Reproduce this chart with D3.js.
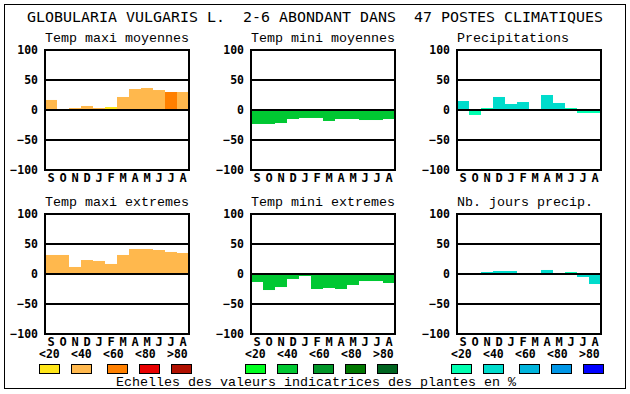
<!DOCTYPE html>
<html>
<head>
<meta charset="utf-8">
<script src="https://cdn.jsdelivr.net/npm/d3@7"></script>
<style>
  body { margin: 0; background: #fff; }
  text { font-family: "DejaVu Sans Mono", monospace; white-space: pre; }
  .thin { font-family: "Liberation Mono", "DejaVu Sans Mono", monospace; }
</style>
</head>
<body>
<svg id="chart" width="630" height="394"></svg>
<script>
// months, sept -> aug
var months = ["S", "O", "N", "D", "J", "F", "M", "A", "M", "J", "J", "A"];
var yTicks = [-100, -50, 0, 50, 100];
var scaleLabels = ["<20", "<40", "<60", "<80", ">80"];

var titles = ["Temp maxi moyennes", "Temp mini moyennes", "Precipitations",
              "Temp maxi extremes", "Temp mini extremes", "Nb. jours precip."];

// values (% indicative value)
var maxiMoy   = [16.7, 1.7, 3.3, 6.7, 3.3, 5, 21.7, 35, 36.7, 33.3, 30, 30];
var miniMoy   = [-23.3, -23.3, -21.7, -15, -13.3, -13.3, -18.3, -15, -15, -16.7, -16.7, -15];
var precip    = [15, -8.3, 3.3, 21.7, 10, 13.3, 1.7, 25, 11.7, 3.3, -5, -5];
var maxiExt   = [31.7, 31.7, 11.7, 23.3, 21.7, 16.7, 31.7, 41.7, 41.7, 40, 36.7, 35];
var miniExt   = [-13.3, -26.7, -21.7, -8.3, -3.3, -25, -23.3, -25, -18.3, -11.7, -11.7, -15];
var joursPrec = [1.7, 0, 3.3, 5, 5, 1.7, 1.7, 6.7, 1.7, 3.3, -5, -16.7];

// class of each bar (0: <20 ... 4: >80)
var maxiMoyCls   = [1, 1, 1, 1, 1, 0, 1, 1, 1, 1, 2, 1];
var miniMoyCls   = [1, 1, 1, 1, 1, 1, 1, 1, 1, 1, 1, 1];
var precipCls    = [1, 0, 0, 1, 1, 1, 1, 1, 1, 0, 0, 0];
var maxiExtCls   = [1, 1, 1, 1, 1, 1, 1, 1, 1, 1, 1, 1];
var miniExtCls   = [1, 1, 1, 1, 1, 1, 1, 1, 1, 1, 1, 1];
var joursPrecCls = [1, 1, 1, 1, 1, 1, 1, 1, 1, 0, 1, 1];

var warm  = ["#ffe619", "#ffb84d", "#ff8000", "#e80000", "#b01000"];
var cold  = ["#00ff20", "#00c832", "#009628", "#007800", "#006420"];
var water = ["#00ffb0", "#00dccc", "#00b4dc", "#0096e6", "#0000ff"];

var panels = [
  {vals: maxiMoy, cls: maxiMoyCls, pal: warm},
  {vals: miniMoy, cls: miniMoyCls, pal: cold},
  {vals: precip, cls: precipCls, pal: water},
  {vals: maxiExt, cls: maxiExtCls, pal: warm},
  {vals: miniExt, cls: miniExtCls, pal: cold},
  {vals: joursPrec, cls: joursPrecCls, pal: water}
];

var svg = d3.select("#chart");

svg.append("rect")
  .attr("x", 4.5).attr("y", 4.5)
  .attr("width", 621).attr("height", 384)
  .attr("fill", "none").attr("stroke", "#000");

svg.append("text")
  .attr("x", 27).attr("y", 22)
  .attr("font-size", "14px")
  .attr("xml:space", "preserve")
  .attr("textLength", 576)
  .attr("lengthAdjust", "spacingAndGlyphs")
  .text("GLOBULARIA VULGARIS L.  2-6 ABONDANT DANS  47 POSTES CLIMATIQUES");

var pw = 144, ph = 120;

panels.forEach(function(p, i) {
  var col = i % 3, row = Math.floor(i / 3);
  var left = 45 + col * 206;
  var top = 50 + row * 164;

  var x = d3.scaleBand().domain(d3.range(12)).range([left, left + pw]).padding(0);
  var y = d3.scaleLinear().domain([-100, 100]).range([top + ph, top]);

  svg.append("text")
    .attr("class", "thin")
    .attr("x", left).attr("y", top - 8)
    .attr("font-size", "13.5px")
    .attr("textLength", titles[i].length * 8)
    .attr("lengthAdjust", "spacingAndGlyphs")
    .text(titles[i]);

  // bars
  svg.append("g")
    .selectAll("rect")
    .data(p.vals)
    .enter().append("rect")
      .attr("x", function(d, j) { return x(j); })
      .attr("width", x.bandwidth())
      .attr("y", function(d) { return y(Math.max(0, d)); })
      .attr("height", function(d) { return Math.abs(y(d) - y(0)); })
      .attr("fill", function(d, j) { return p.pal[p.cls[j]]; });

  // grid lines at +-50 and 0
  svg.append("g")
    .selectAll("line")
    .data([-50, 0, 50])
    .enter().append("line")
      .attr("x1", left).attr("x2", left + pw)
      .attr("y1", function(d) { return y(d); })
      .attr("y2", function(d) { return y(d); })
      .attr("stroke", "#000").attr("stroke-width", 2);

  svg.append("rect")
    .attr("x", left).attr("y", top)
    .attr("width", pw).attr("height", ph)
    .attr("fill", "none").attr("stroke", "#000").attr("stroke-width", 2);

  var yAxis = d3.axisLeft(y).tickValues(yTicks).tickSize(0).tickPadding(7);
  var gy = svg.append("g").attr("transform", "translate(" + left + ",0)").call(yAxis);
  gy.select(".domain").remove();
  gy.selectAll("text")
    .attr("font-family", "DejaVu Sans Mono")
    .attr("font-weight", "bold")
    .attr("font-size", "11.5px")
    .attr("fill", "#000");

  var xAxis = d3.axisBottom(x).tickSize(0).tickPadding(3)
    .tickFormat(function(j) { return months[j]; });
  var gx = svg.append("g").attr("transform", "translate(0," + (top + ph) + ")").call(xAxis);
  gx.select(".domain").remove();
  gx.selectAll("text")
    .attr("font-family", "DejaVu Sans Mono")
    .attr("font-weight", "bold")
    .attr("font-size", "12px")
    .attr("fill", "#000");

  if (row == 1) {
    var labX = [-6, 26, 58, 90, 122];
    var boxX = [-6, 26, 62, 94, 126];
    svg.append("g")
      .selectAll("text")
      .data(scaleLabels)
      .enter().append("text")
        .attr("x", function(d, k) { return left + labX[k]; })
        .attr("y", 358)
        .attr("font-weight", "bold")
        .attr("font-size", "11.5px")
        .text(function(d) { return d; });
    svg.append("g")
      .selectAll("rect")
      .data(p.pal)
      .enter().append("rect")
        .attr("x", function(d, k) { return left + boxX[k] + 0.5; })
        .attr("y", 364.5)
        .attr("width", 20).attr("height", 9)
        .attr("fill", function(d) { return d; })
        .attr("stroke", "#000");
  }
});

var cap = "Echelles des valeurs indicatrices des plantes en %";
svg.append("text")
  .attr("class", "thin")
  .attr("x", 116).attr("y", 386)
  .attr("font-size", "13.5px")
  .attr("textLength", cap.length * 8)
  .attr("lengthAdjust", "spacingAndGlyphs")
  .text(cap);
</script>
</body>
</html>
